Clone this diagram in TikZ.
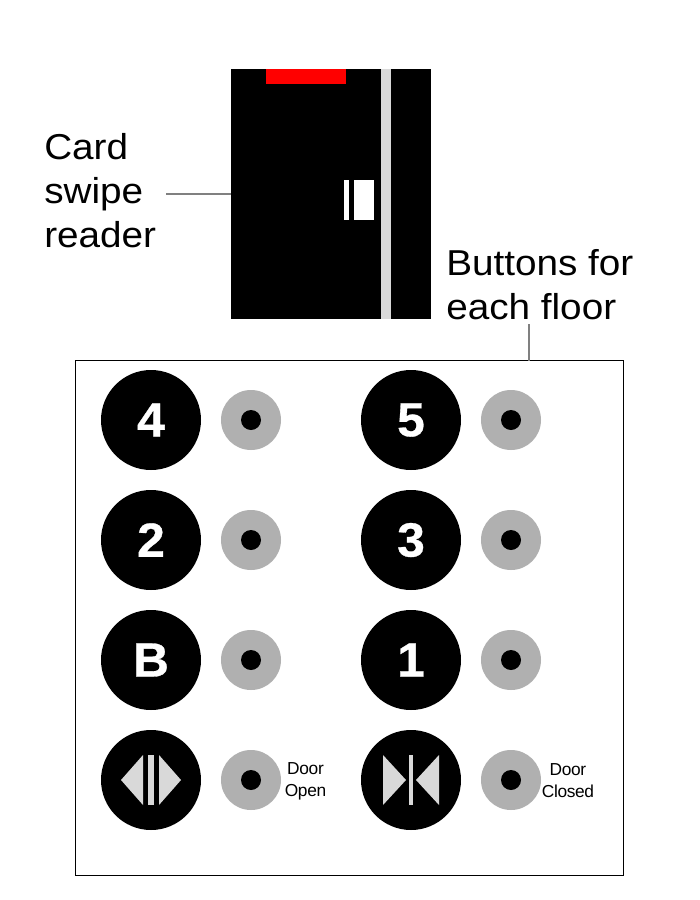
\documentclass[tikz,border=0pt]{standalone}
\usepackage{fontspec}
\setmainfont{Liberation Sans}
\newfontfamily\bigfont[FakeStretch=1.075]{Liberation Sans}
\newfontfamily\digitfont[FakeStretch=1.04,FakeBold=0.6]{Liberation Sans Bold}
\definecolor{ringgray}{HTML}{B0B0B0}
\definecolor{palegray}{HTML}{D9D9D9}
\definecolor{leadgray}{HTML}{808080}
\tikzset{
  x=0.75pt,y=-0.75pt,
  block/.style={fill=#1,draw=none,inner sep=0pt,outer sep=0pt,anchor=north west},
  floorbtn/.style={circle,fill=black,draw=none,minimum size=75pt,inner sep=0pt,outer sep=0pt,text=white,font=\fontsize{36}{36}\digitfont},
  ring/.style={circle,fill=ringgray,draw=none,minimum size=45pt,inner sep=0pt,outer sep=0pt},
  dotc/.style={circle,fill=black,draw=none,minimum size=15pt,inner sep=0pt,outer sep=0pt},
  biglabel/.style={align=left,anchor=west,inner sep=0pt,font=\fontsize{27}{33}\bigfont},
  smalllabel/.style={align=center,inner sep=0pt,font=\fontsize{13}{16.5}\selectfont\addfontfeatures{LetterSpace=-2}},
  leader/.style={draw=leadgray,line width=1.1pt},
  glyph/.style={fill=palegray,draw=none}
}
\begin{document}
\begin{tikzpicture}
\useasboundingbox (0,0) rectangle (700,900);
\fill[white] (0,0) rectangle (700,900);
% card reader
\node[block=black,minimum width=150pt,minimum height=187.5pt] (reader) at (231,69) {};
\node[block=red,minimum width=60pt,minimum height=11.25pt] (lamp) at (266,69) {};
\node[block=palegray,minimum width=7.5pt,minimum height=187.5pt] (slot) at (381,69) {};
\node[block=white,minimum width=3.75pt,minimum height=30pt] (cardA) at (344,180) {};
\node[block=white,minimum width=15pt,minimum height=30pt] (cardB) at (354,180) {};
% labels
\node[biglabel] (swipe) at (44,191) {Card\\swipe\\reader};
\node[biglabel] (floors) at (446,285) {Buttons for\\each floor};
\coordinate (swipeend) at (166,194);
\coordinate (floorsend) at (529,324);
% panel
\node[block=white,draw=black,line width=0.75pt,minimum width=411pt,minimum height=386.25pt] (panel) at (75.5,360.5) {};
\coordinate (paneltop) at (529,360.5);
\draw[leader] (swipeend) -- (reader.west);
\draw[leader] (floorsend) -- (paneltop);
% buttons
\foreach \name/\lab/\bx/\by in {a/4/151/420,b/5/411/420,c/2/151/540,d/3/411/540,e/B/151/660,f/1/411/660}{
  \node[floorbtn] (btn\name) at (\bx,\by) {\lab};
  \node[ring] (ring\name) at (\bx+100,\by) {};
  \node[dotc] (dot\name) at (\bx+100,\by) {};
}
% door buttons
\node[floorbtn] (btnopen) at (151,780) {};
\fill[glyph] (143,755) -- (143,805) -- (121,780) -- cycle;
\fill[glyph] (159,755) -- (159,805) -- (181,780) -- cycle;
\fill[glyph] (148,755) rectangle (154,805);
\node[ring] (ringopen) at (251,780) {};
\node[dotc] (dotopen) at (251,780) {};
\node[smalllabel] (labopen) at (305.5,781) {Door\\Open};
\node[floorbtn] (btnclose) at (411,780) {};
\fill[glyph] (383,755) -- (383,805) -- (406,780) -- cycle;
\fill[glyph] (439,755) -- (439,805) -- (416,780) -- cycle;
\fill[glyph] (409,755) rectangle (413,805);
\node[ring] (ringclose) at (511,780) {};
\node[dotc] (dotclose) at (511,780) {};
\node[smalllabel] (labclose) at (568,781) {Door\\Closed};
\end{tikzpicture}
\end{document}
